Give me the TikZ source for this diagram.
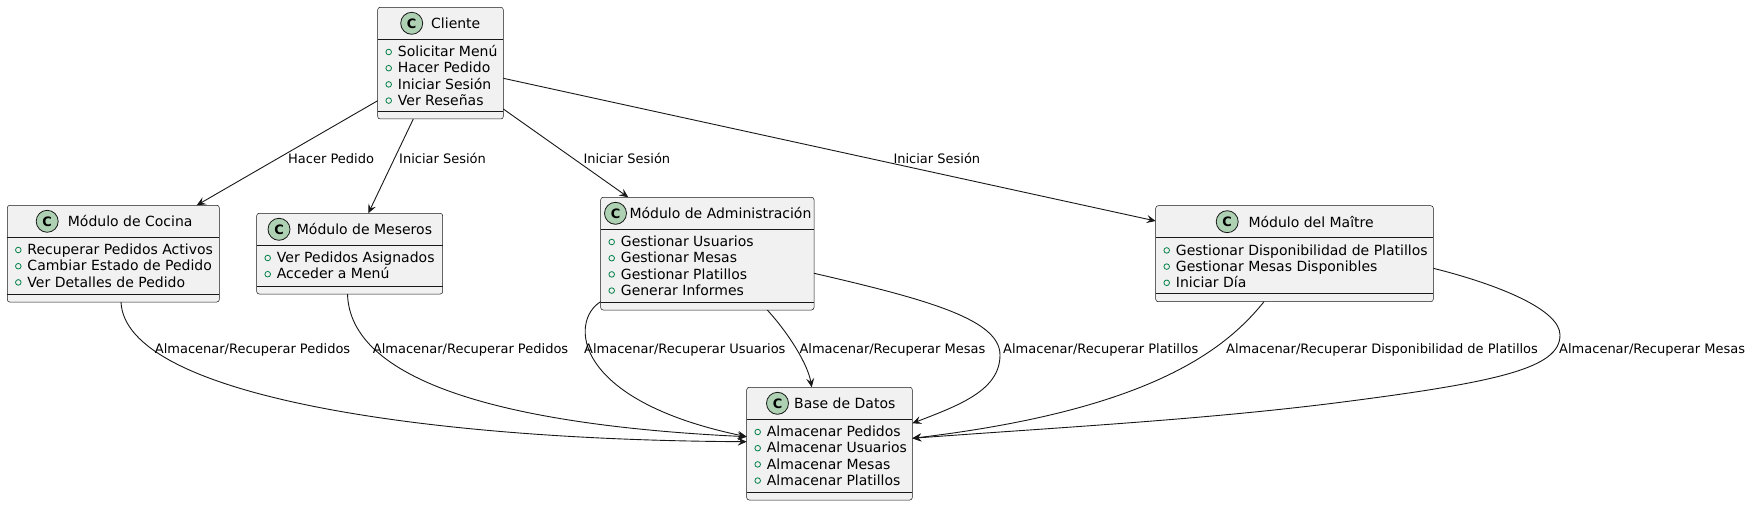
\documentclass[tikz,border=0pt]{standalone}
\usepackage{fontspec}
\setmainfont{DejaVu Sans}
\usetikzlibrary{arrows.meta,calc}
\definecolor{ufill}{HTML}{F1F1F1}
\definecolor{uborder}{HTML}{181818}
\definecolor{uicon}{HTML}{ADD1B2}
\definecolor{ugreen}{HTML}{038048}
\newcommand{\umlfont}{\fontsize{14.05}{16.2}\selectfont}
\newcommand{\edgefont}{\fontsize{13.05}{15}\selectfont}
\tikzset{
  classbox/.style={draw=uborder, fill=ufill, line width=0.5bp, rounded corners=2.5bp, inner sep=0pt, outer sep=0pt},
  sepline/.style={draw=uborder, line width=0.5bp},
  iconc/.style={circle, draw=uborder, fill=uicon, line width=0.8bp, minimum size=22bp, inner sep=0pt, font=\bfseries\fontsize{13}{13}\selectfont},
  titletext/.style={inner sep=0pt, anchor=base west, font=\umlfont},
  attrtext/.style={inner sep=0pt, anchor=base west, font=\umlfont},
  attrdot/.style={draw=ugreen, line width=0.8bp},
  elabel/.style={inner sep=0pt, anchor=base west, font=\edgefont},
  edge/.style={draw=uborder, line width=0.9bp, -{Stealth[length=9bp,width=8bp,inset=3.5bp]}},
}
% #1 name, #2 left, #3 top, #4 width, #5 height, #6 icon x, #7 title x, #8 title, #9 attributes
\newcommand{\umlclass}[9]{%
  \node[classbox, minimum width=#4bp, minimum height=#5bp, anchor=north west] (#1) at (#2,#3) {};
  \draw[sepline] ($(#1.north west)+(0,32)$) -- ($(#1.north east)+(0,32)$);
  \draw[sepline] ($(#1.south west)+(0,-8)$) -- ($(#1.south east)+(0,-8)$);
  \node[iconc] (#1-i) at ({#6},{#3+16}) {C};
  \node[titletext] (#1-t) at ({#7},{#3+21.6}) {#8};
  \foreach \a [count=\i] in {#9} {
    \node[attrtext] (#1-a\i) at ({#2+20},{#3+49.4+16.2*(\i-1)}) {\a};
    \draw[attrdot] ({#2+11},{#3+49.4+16.2*(\i-1)-4.7}) circle (2.8bp);
  }
}
\begin{document}
\begin{tikzpicture}[x=1bp, y=-1bp]
\fill[white] (0,0) rectangle (1752,506);
\useasboundingbox (0,0) rectangle (1752,506);

\umlclass{cli}{377.7}{7.3}{125.6}{111.7}{411.7}{431}{Cliente}{Solicitar Menú,Hacer Pedido,Iniciar Sesión,Ver Reseñas}
\umlclass{coc}{7.3}{205.3}{212}{96.7}{47.2}{67.7}{Módulo de Cocina}{Recuperar Pedidos Activos,Cambiar Estado de Pedido,Ver Detalles de Pedido}
\umlclass{mes}{256.7}{213.3}{186}{80.7}{279}{296.7}{Módulo de Meseros}{Ver Pedidos Asignados,Acceder a Menú}
\umlclass{adm}{600.7}{197.3}{213.3}{112.7}{615.5}{629.3}{Módulo de Administración}{Gestionar Usuarios,Gestionar Mesas,Gestionar Platillos,Generar Informes}
\umlclass{mai}{1155.7}{205.7}{277.6}{96}{1227.2}{1248.3}{Módulo del Maître}{Gestionar Disponibilidad de Platillos,Gestionar Mesas Disponibles,Iniciar Día}
\umlclass{bd}{746.7}{387.3}{165.6}{112.7}{777.5}{794}{Base de Datos}{Almacenar Pedidos,Almacenar Usuarios,Almacenar Mesas,Almacenar Platillos}

% Cliente edges
\draw[edge] ($(cli.north west)+(0,93.4)$) -- ($(coc.north west)+(189.4,0)$);
\draw[edge] ($(cli.south west)+(35.6,0)$) -- ($(mes.north west)+(111.6,0)$);
\draw[edge] ($(cli.north east)+(0,101.7)$) -- ($(adm.north west)+(27.6,0)$);
\draw[edge] ($(cli.north east)+(0,71)$) -- ($(mai.north west)+(0,15.3)$);

% to Base de Datos
\draw[edge] ($(coc.south west)+(113.7,0)$) .. controls +(4,93) and +(-326.7,-1.7) .. ($(bd.north west)+(0,54.4)$);
\draw[edge] ($(mes.south west)+(90.8,0)$) .. controls +(2.5,86) and +(-246.7,-11.7) .. ($(bd.north west)+(0,49.4)$);
\draw[edge] ($(adm.south west)+(0,-8.3)$) .. controls +(-30.7,18.3) and +(-176.7,-36.7) .. ($(bd.north west)+(0,49.4)$);
\draw[edge] ($(adm.south west)+(166.6,0)$) .. controls +(22.7,25) and +(-3.7,-22.3) .. ($(bd.north west)+(65,0)$);
\draw[edge] ($(adm.north east)+(0,76)$) .. controls +(116,26.7) and +(0,-35) .. (1000,355)
   .. controls +(0,35) and +(47.7,-18.3) .. ($(bd.north east)+(0,36)$);
\draw[edge] ($(mai.south west)+(108.3,0)$) .. controls +(-39,48.3) and +(237.7,-28.3) .. ($(bd.north east)+(0,51)$);
\draw[edge] ($(mai.north east)+(0,62.6)$) .. controls +(66.7,16.7) and +(0,-25) .. (1560,335)
   .. controls +(0,33) and +(165,-21) .. (1335,403)
   .. controls +(-135,17) and +(137.7,-10.3) .. ($(bd.north east)+(0,51)$);

% labels
\node[elabel] (l1) at (288,163.3) {Hacer Pedido};
\node[elabel] (l2) at (399,163.3) {Iniciar Sesión};
\node[elabel] (l3) at (583.3,163.3) {Iniciar Sesión};
\node[elabel] (l4) at (893.3,163.3) {Iniciar Sesión};
\node[elabel] (l5) at (154.7,353.3) {Almacenar/Recuperar Pedidos};
\node[elabel] (l6) at (372.7,353.3) {Almacenar/Recuperar Pedidos};
\node[elabel] (l7) at (584,353.3) {Almacenar/Recuperar Usuarios};
\node[elabel] (l8) at (799.3,353.3) {Almacenar/Recuperar Mesas};
\node[elabel] (l9) at (1003,353.3) {Almacenar/Recuperar Platillos};
\node[elabel] (l10) at (1226,353.3) {Almacenar/Recuperar Disponibilidad de Platillos};
\node[elabel] (l11) at (1559,353.3) {Almacenar/Recuperar Mesas};
\end{tikzpicture}
\end{document}
